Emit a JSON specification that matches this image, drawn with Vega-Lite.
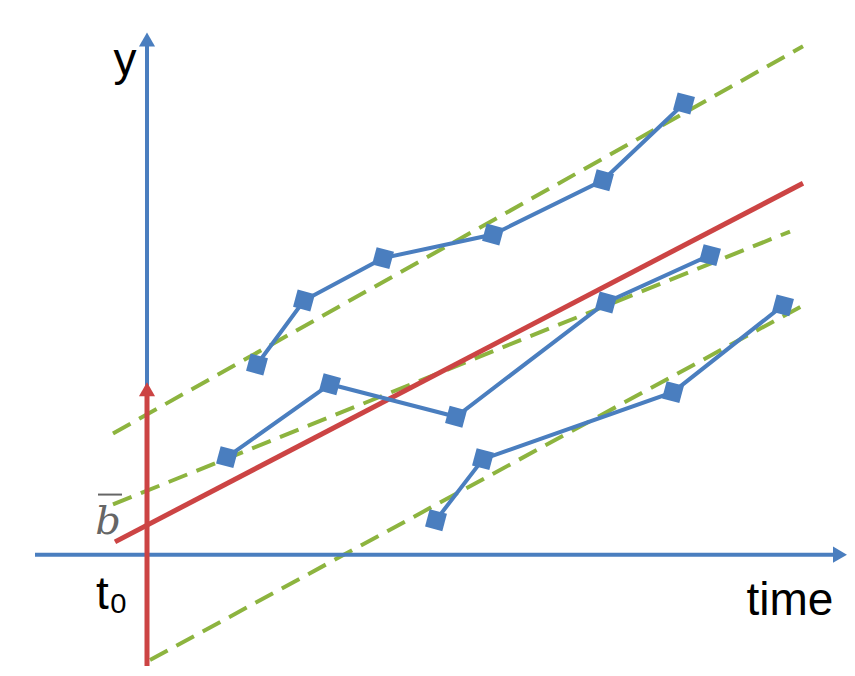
{
  "$schema": "https://vega.github.io/schema/vega-lite/v6.json",
  "width": 855,
  "height": 676,
  "autosize": {"type": "fit", "contains": "padding"},
  "padding": 0,
  "config": {"view": {"stroke": null}},
  "datasets": {
    "axes": [
      {"g": "yaxis", "x": 147, "y": 565, "i": 0},
      {"g": "yaxis", "x": 147, "y": 40, "i": 1},
      {"g": "xaxis", "x": 35, "y": 563, "i": 0},
      {"g": "xaxis", "x": 840, "y": 563, "i": 1}
    ],
    "red": [
      {"g": "arrow", "x": 147, "y": 676, "i": 0},
      {"g": "arrow", "x": 147, "y": 395, "i": 1},
      {"g": "mean", "x": 115, "y": 550, "i": 0},
      {"g": "mean", "x": 803, "y": 186, "i": 1}
    ],
    "green": [
      {"g": "1", "x": 113, "y": 440, "i": 0},
      {"g": "1", "x": 803, "y": 47, "i": 1},
      {"g": "2", "x": 113, "y": 512, "i": 0},
      {"g": "2", "x": 790, "y": 235, "i": 1},
      {"g": "3", "x": 150, "y": 670, "i": 0},
      {"g": "3", "x": 803, "y": 310, "i": 1}
    ],
    "series": [
      {"g": "A", "x": 257, "y": 370, "i": 0},
      {"g": "A", "x": 304, "y": 305, "i": 1},
      {"g": "A", "x": 383, "y": 262, "i": 2},
      {"g": "A", "x": 493, "y": 238, "i": 3},
      {"g": "A", "x": 603, "y": 183, "i": 4},
      {"g": "A", "x": 684, "y": 105, "i": 5},
      {"g": "B", "x": 227, "y": 464, "i": 0},
      {"g": "B", "x": 330, "y": 390, "i": 1},
      {"g": "B", "x": 456, "y": 423, "i": 2},
      {"g": "B", "x": 606, "y": 307, "i": 3},
      {"g": "B", "x": 710, "y": 259, "i": 4},
      {"g": "C", "x": 436, "y": 528, "i": 0},
      {"g": "C", "x": 483, "y": 466, "i": 1},
      {"g": "C", "x": 673, "y": 398, "i": 2},
      {"g": "C", "x": 783, "y": 310, "i": 3}
    ],
    "heads": [
      {"x": 147, "y": 40, "shape": "triangle-up", "c": "blue"},
      {"x": 840, "y": 563, "shape": "triangle-right", "c": "blue"},
      {"x": 147, "y": 395, "shape": "triangle-up", "c": "red"}
    ],
    "labels": [
      {"x": 125, "y": 62, "label": "y"},
      {"x": 112, "y": 604, "label": "t₀"},
      {"x": 790, "y": 610, "label": "time"}
    ]
  },
  "encoding": {
    "x": {"field": "x", "type": "quantitative", "scale": {"domain": [0, 855], "nice": false, "zero": false}, "axis": null},
    "y": {"field": "y", "type": "quantitative", "scale": {"domain": [0, 676], "reverse": true, "nice": false, "zero": false}, "axis": null}
  },
  "layer": [
    {
      "data": {"name": "green"},
      "mark": {"type": "line", "color": "#8db43f", "strokeWidth": 4, "strokeDash": [20, 10]},
      "encoding": {"detail": {"field": "g"}, "order": {"field": "i"}}
    },
    {
      "data": {"name": "axes"},
      "mark": {"type": "line", "color": "#4a7ebf", "strokeWidth": 4},
      "encoding": {"detail": {"field": "g"}, "order": {"field": "i"}}
    },
    {
      "data": {"name": "red"},
      "mark": {"type": "line", "color": "#cc4444", "strokeWidth": 5},
      "encoding": {"detail": {"field": "g"}, "order": {"field": "i"}}
    },
    {
      "data": {"name": "series"},
      "mark": {"type": "line", "color": "#4a7ebf", "strokeWidth": 4},
      "encoding": {"detail": {"field": "g"}, "order": {"field": "i"}}
    },
    {
      "data": {"name": "series"},
      "mark": {"type": "point", "shape": "square", "filled": true, "color": "#4a7ebf", "size": 320, "opacity": 1, "angle": 15}
    },
    {
      "data": {"name": "heads"},
      "mark": {"type": "point", "filled": true, "size": 260, "opacity": 1},
      "encoding": {
        "shape": {"field": "shape", "type": "nominal", "scale": null},
        "color": {"field": "c", "type": "nominal", "scale": {"domain": ["blue", "red"], "range": ["#4a7ebf", "#cc4444"]}, "legend": null}
      }
    },
    {
      "data": {"name": "labels"},
      "mark": {"type": "text", "fontSize": 46, "font": "Liberation Sans", "align": "center", "baseline": "middle", "color": "black"},
      "encoding": {"text": {"field": "label"}}
    },
    {
      "data": {"values": [{"x": 108, "y": 530, "label": "b"}]},
      "mark": {"type": "text", "fontSize": 40, "font": "DejaVu Serif", "fontStyle": "italic", "align": "center", "baseline": "middle", "color": "#666666"},
      "encoding": {"text": {"field": "label"}}
    },
    {
      "data": {"values": [{"x": 98, "y": 502, "i": 0}, {"x": 122, "y": 502, "i": 1}]},
      "mark": {"type": "line", "color": "#666666", "strokeWidth": 2},
      "encoding": {"order": {"field": "i"}}
    }
  ]
}
